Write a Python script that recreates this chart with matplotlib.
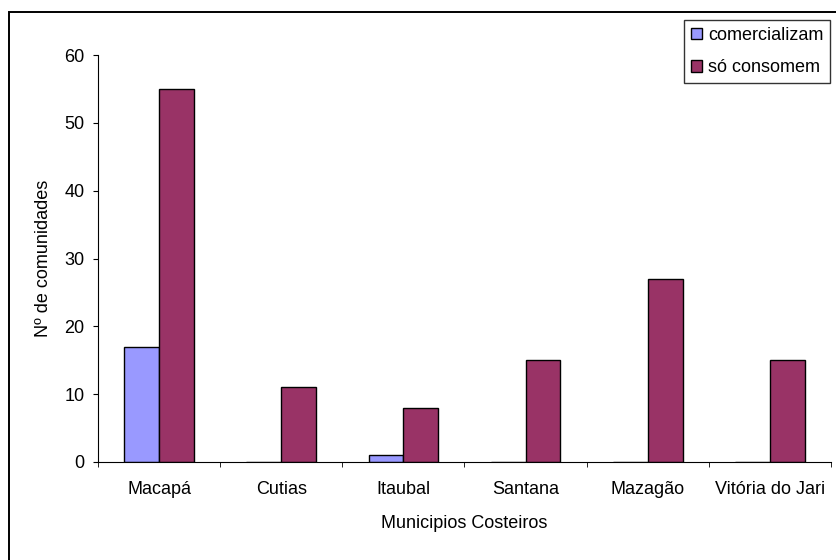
import numpy as np
import matplotlib
matplotlib.use("Agg")
import matplotlib.pyplot as plt
from matplotlib.patches import Rectangle

plt.rcParams['font.family'] = ['Liberation Sans', 'DejaVu Sans']

municipios = ['Macapá', 'Cutias', 'Itaubal', 'Santana', 'Mazagão', 'Vitória do Jari']
comercializam = [17, 0, 1, 0, 0, 0]
so_consomem = [55, 11, 8, 15, 27, 15]

W, H = 836, 560
fs = 13
fig = plt.figure(figsize=(W / 100, H / 100), dpi=100)

# moldura externa (passa da borda direita/inferior como no original)
fig.patches.append(Rectangle((9 / W, -0.05), 1.0, 1 - 12 / H + 0.05,
                             transform=fig.transFigure, fill=False,
                             edgecolor='black', linewidth=1.4))

ax = fig.add_axes([98 / W, 1 - 462 / H, (831 - 98) / W, (462 - 55) / H])

x = np.arange(len(municipios))
bw = 1 / 3.5
ax.bar(x - bw / 2, comercializam, bw, color='#9999FF', edgecolor='black',
       linewidth=1, label='comercializam')
ax.bar(x + bw / 2, so_consomem, bw, color='#993366', edgecolor='black',
       linewidth=1, label='só consomem')

ax.set_xlim(-0.5, len(municipios) - 0.5)
ax.set_ylim(0, 60)
ax.set_yticks(range(0, 61, 10))
ax.set_xticks(x)
ax.set_xticklabels(municipios)
ax.set_xticks(np.arange(-0.5, len(municipios)), minor=True)
ax.tick_params(axis='x', which='major', length=0, pad=14, labelsize=fs)
ax.tick_params(axis='x', which='minor', length=3.6, direction='out')
ax.tick_params(axis='y', length=3.6, direction='out', labelsize=fs, pad=6)

for s in ['top', 'right']:
    ax.spines[s].set_visible(False)
for s in ['left', 'bottom']:
    ax.spines[s].set_linewidth(0.8)

ax.set_ylabel('Nº de comunidades', fontsize=fs, labelpad=9)
ax.set_xlabel('Municipios Costeiros', fontsize=fs, labelpad=12)

leg = fig.legend(loc='upper left', bbox_to_anchor=(684 / W, 1 - 20 / H),
                 frameon=True, fancybox=False, fontsize=fs,
                 handlelength=0.6, handleheight=0.6, handletextpad=0.35,
                 labelspacing=0.85, borderpad=0.38, borderaxespad=0)
leg.get_frame().set_edgecolor('black')
leg.get_frame().set_linewidth(1)

fig.savefig('out.png', dpi=100)
